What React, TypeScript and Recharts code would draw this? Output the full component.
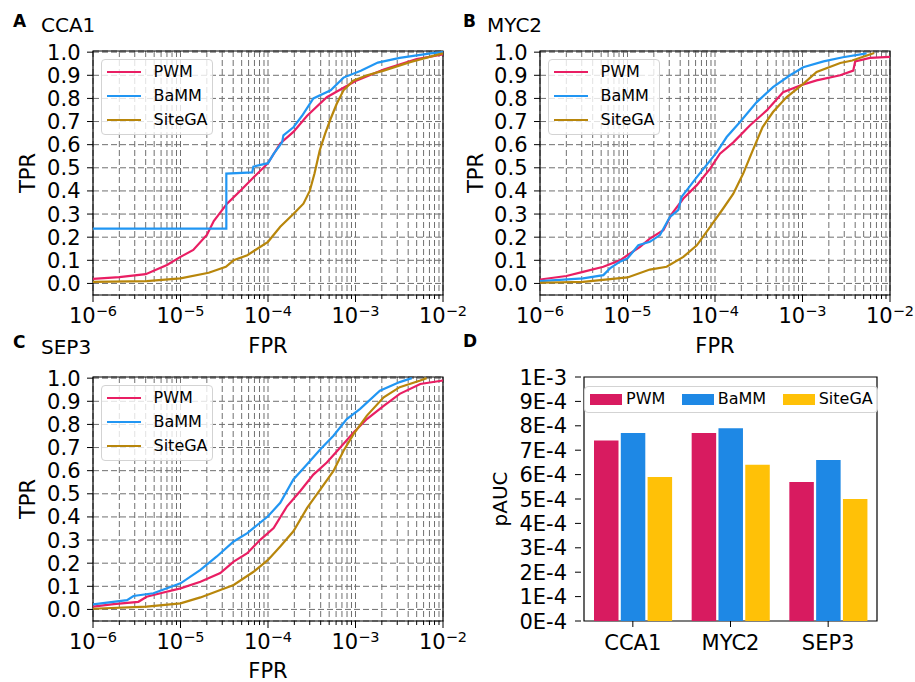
import React from 'react';
import {
    LineChart,
    Line,
    BarChart,
    Bar,
    XAxis,
    YAxis,
    CartesianGrid,
    Legend,
    ReferenceArea
} from 'recharts';

const FONT = '"DejaVu Sans", sans-serif';

// colours
const PWM_LINE = '#e91e63';
const BAMM_LINE = '#2196f3';
const SITEGA_LINE = '#b8860b';
const PWM_BAR = '#d81b60';
const BAMM_BAR = '#1e88e5';
const SITEGA_BAR = '#ffc107';

const seriesNames = ['PWM', 'BaMM', 'SiteGA'];

// axis ticks
const fprTicks = [
    1e-6, 2e-6, 3e-6, 4e-6, 5e-6, 6e-6, 7e-6, 8e-6, 9e-6,
    1e-5, 2e-5, 3e-5, 4e-5, 5e-5, 6e-5, 7e-5, 8e-5, 9e-5,
    1e-4, 2e-4, 3e-4, 4e-4, 5e-4, 6e-4, 7e-4, 8e-4, 9e-4,
    1e-3, 2e-3, 3e-3, 4e-3, 5e-3, 6e-3, 7e-3, 8e-3, 9e-3,
    1e-2
];
const tprTicks = [0, 0.1, 0.2, 0.3, 0.4, 0.5, 0.6, 0.7, 0.8, 0.9, 1.0];
const tprLabels = ['0.0', '0.1', '0.2', '0.3', '0.4', '0.5', '0.6', '0.7', '0.8', '0.9', '1.0'];

// ROC curves, [FPR, TPR]
const cca1Pwm = [
    [1e-6, 0.02], [2e-6, 0.027], [4e-6, 0.04], [7e-6, 0.08], [1e-5, 0.115],
    [1.4e-5, 0.145], [2e-5, 0.21], [2.4e-5, 0.27], [3.4e-5, 0.345], [4.8e-5, 0.4],
    [6.9e-5, 0.46], [1e-4, 0.52], [1.38e-4, 0.605], [1.95e-4, 0.655], [2.8e-4, 0.725],
    [4.7e-4, 0.805], [1e-3, 0.875], [2.1e-3, 0.925], [5e-3, 0.97], [1e-2, 0.99]
];
const cca1Bamm = [
    [1e-6, 0.237], [3.34e-5, 0.237], [3.34e-5, 0.475], [6.6e-5, 0.48], [6.8e-5, 0.505],
    [1e-4, 0.52], [1.16e-4, 0.56], [1.45e-4, 0.61], [1.5e-4, 0.64], [1.95e-4, 0.675],
    [2.45e-4, 0.725], [3.3e-4, 0.8], [5.2e-4, 0.835], [7.3e-4, 0.89], [1.15e-3, 0.92],
    [1.8e-3, 0.955], [3.2e-3, 0.975], [7.2e-3, 0.995], [1e-2, 1.0]
];
const cca1Sitega = [
    [1e-6, 0.007], [4.1e-6, 0.01], [1e-5, 0.022], [2.1e-5, 0.046], [3.3e-5, 0.072],
    [4.05e-5, 0.1], [5.8e-5, 0.122], [1e-4, 0.18], [1.38e-4, 0.245], [1.95e-4, 0.3],
    [2.54e-4, 0.345], [3e-4, 0.4], [3.4e-4, 0.475], [3.9e-4, 0.575], [4.5e-4, 0.648],
    [5.2e-4, 0.712], [6.1e-4, 0.777], [7.3e-4, 0.835], [9.4e-4, 0.877], [1.36e-3, 0.9],
    [2.1e-3, 0.92], [4.2e-3, 0.957], [7.9e-3, 0.985], [1e-2, 0.995]
];

const myc2Pwm = [
    [1e-6, 0.017], [2e-6, 0.032], [3.1e-6, 0.05], [5.3e-6, 0.072], [8.2e-6, 0.1],
    [1e-5, 0.122], [1.39e-5, 0.158], [1.8e-5, 0.194], [2.57e-5, 0.23], [3.2e-5, 0.3],
    [4.35e-5, 0.367], [6.2e-5, 0.425], [8.8e-5, 0.496], [1.14e-4, 0.561], [1.62e-4, 0.61],
    [2.5e-4, 0.683], [3.9e-4, 0.748], [6e-4, 0.827], [9.4e-4, 0.856], [1.45e-3, 0.878],
    [2.7e-3, 0.9], [3.8e-3, 0.92], [4e-3, 0.96], [5.9e-3, 0.975], [1e-2, 0.98]
];
const myc2Bamm = [
    [1e-6, 0.01], [3.1e-6, 0.022], [5.3e-6, 0.036], [6.3e-6, 0.065], [8.2e-6, 0.094],
    [1e-5, 0.108], [1.33e-5, 0.165], [1.8e-5, 0.18], [2.35e-5, 0.209], [3.06e-5, 0.288],
    [3.8e-5, 0.317], [4.15e-5, 0.374], [6.2e-5, 0.46], [1.05e-4, 0.568], [1.36e-4, 0.633],
    [1.93e-4, 0.698], [3e-4, 0.784], [4.6e-4, 0.849], [7.2e-4, 0.9], [1.02e-3, 0.935],
    [1.74e-3, 0.96], [2.9e-3, 0.978], [5.4e-3, 0.995]
];
const myc2Sitega = [
    [1e-6, 0.003], [3.1e-6, 0.007], [1e-5, 0.026], [1.8e-5, 0.06], [2.8e-5, 0.072],
    [4.35e-5, 0.115], [6.2e-5, 0.165], [8.8e-5, 0.245], [1.24e-4, 0.324], [1.62e-4, 0.388],
    [2.1e-4, 0.475], [2.7e-4, 0.575], [3.5e-4, 0.676], [4.6e-4, 0.741], [6.6e-4, 0.806],
    [1.02e-3, 0.863], [1.45e-3, 0.914], [2.7e-3, 0.953], [3.7e-3, 0.964], [6.6e-3, 0.996]
];

const sep3Pwm = [
    [1e-6, 0.012], [1.72e-6, 0.023], [3.3e-6, 0.033], [4.1e-6, 0.055], [5.9e-6, 0.07],
    [1e-5, 0.091], [1.69e-5, 0.12], [2.85e-5, 0.157], [4.05e-5, 0.207], [5.8e-5, 0.243],
    [8.1e-5, 0.3], [1.16e-4, 0.352], [1.65e-4, 0.446], [2.34e-4, 0.512], [3.3e-4, 0.583],
    [4.7e-4, 0.635], [6.7e-4, 0.7], [9.5e-4, 0.765], [1.35e-3, 0.823], [2.1e-3, 0.88],
    [3.2e-3, 0.932], [5.5e-3, 0.975], [1e-2, 0.99]
];
const sep3Bamm = [
    [1e-6, 0.022], [2.45e-6, 0.04], [2.9e-6, 0.058], [4.9e-6, 0.07], [1e-5, 0.113],
    [1.69e-5, 0.171], [2.6e-5, 0.229], [4.05e-5, 0.294], [5.8e-5, 0.33], [1e-4, 0.403],
    [1.38e-4, 0.461], [1.95e-4, 0.562], [2.8e-4, 0.628], [3.97e-4, 0.693], [5.6e-4, 0.751],
    [7.95e-4, 0.823], [1.13e-3, 0.867], [1.9e-3, 0.946], [3.2e-3, 0.983], [4.4e-3, 1.0]
];
const sep3Sitega = [
    [1e-6, 0.003], [4.1e-6, 0.012], [1e-5, 0.026], [1.69e-5, 0.052], [2.85e-5, 0.084],
    [4.05e-5, 0.106], [6.9e-5, 0.164], [1e-4, 0.214], [1.38e-4, 0.272], [1.95e-4, 0.338],
    [2.8e-4, 0.439], [3.97e-4, 0.519], [5.6e-4, 0.599], [7.3e-4, 0.686], [9.5e-4, 0.758],
    [1.35e-3, 0.838], [2.1e-3, 0.917], [3.2e-3, 0.961], [5.5e-3, 0.99], [6.5e-3, 1.0]
];

// partial AUC bars
const categories = ['CCA1', 'MYC2', 'SEP3'];
const pwmPauc = [7.4e-4, 7.7e-4, 5.7e-4];
const bammPauc = [7.7e-4, 7.9e-4, 6.6e-4];
const sitegaPauc = [5.9e-4, 6.4e-4, 5.0e-4];
const pAucTicks = [0, 1e-4, 2e-4, 3e-4, 4e-4, 5e-4, 6e-4, 7e-4, 8e-4, 9e-4, 1e-3];
const pAucLabels = ['0E-4', '1E-4', '2E-4', '3E-4', '4E-4', '5E-4', '6E-4', '7E-4', '8E-4', '9E-4', '1E-3'];

const toPoints = (pairs: number[][]) => pairs.map(([fpr, tpr]) => ({ fpr, tpr }));

const pAucRows = categories.map((name, i) => ({
    name,
    pwm: pwmPauc[i],
    bamm: bammPauc[i],
    sitega: sitegaPauc[i]
}));

// legend keeps the series order, not alphabetical
const ordered = (payload: any[] = []) =>
    [...payload].sort((a, b) => seriesNames.indexOf(a.value) - seriesNames.indexOf(b.value));

const tickText = (size: number) => ({ fontSize: size, fontFamily: FONT, fill: '#000' });

const LogTick = (props: any) => {
    const { x, y, payload } = props;
    const e = Math.log10(payload.value);
    const major = Math.abs(e - Math.round(e)) < 1e-6;
    return (
        <g>
            <line x1={x} x2={x} y1={y} y2={y + (major ? 7 : 4)} stroke="#000" strokeWidth={1} />
            {major && (
                <text x={x} y={y + 28} textAnchor="middle" fontSize={21} style={tickText(21)}>
                    10
                    <tspan dy={-7.5} fontSize={14.5} style={tickText(14.5)}>{'\u2212' + -Math.round(e)}</tspan>
                </text>
            )}
        </g>
    );
};

const TprTick = (props: any) => {
    const { x, y, payload } = props;
    const i = tprTicks.indexOf(payload.value);
    return (
        <g>
            <line x1={x - 6} x2={x} y1={y} y2={y} stroke="#000" strokeWidth={1} />
            <text x={x - 12.5} y={y + 7.5} textAnchor="end" fontSize={21} style={tickText(21)}>
                {tprLabels[i]}
            </text>
        </g>
    );
};

const PaucTick = (props: any) => {
    const { x, y, payload } = props;
    const i = pAucTicks.indexOf(payload.value);
    return (
        <g>
            <line x1={x - 6} x2={x} y1={y} y2={y} stroke="#000" strokeWidth={1} />
            <text x={x - 14} y={y + 7.5} textAnchor="end" fontSize={21} style={tickText(21)}>
                {pAucLabels[i]}
            </text>
        </g>
    );
};

const CatTick = (props: any) => {
    const { x, y, payload } = props;
    return (
        <g>
            <line x1={x} x2={x} y1={y} y2={y + 6} stroke="#000" strokeWidth={1} />
            <text x={x} y={y + 29} textAnchor="middle" fontSize={21} style={tickText(21)}>
                {payload.value}
            </text>
        </g>
    );
};

const LineLegend = (props: any) => (
    <div
        style={{
            width: 112,
            height: 76,
            boxSizing: 'border-box',
            background: 'rgba(255,255,255,0.8)',
            border: '1px solid #d3d3d3',
            borderRadius: 4,
            paddingLeft: 4.5
        }}
    >
        {ordered(props.payload).map((p: any) => (
            <div key={p.value} style={{ display: 'flex', alignItems: 'center', height: 24 }}>
                <span style={{ width: 34, height: 2.2, background: p.color, marginRight: 13 }} />
                <span style={{ fontSize: 16, fontFamily: FONT, color: '#000', lineHeight: '16px' }}>{p.value}</span>
            </div>
        ))}
    </div>
);

const BarLegend = (props: any) => (
    <div
        style={{
            width: 294,
            height: 27,
            boxSizing: 'border-box',
            background: 'rgba(255,255,255,0.8)',
            border: '1px solid #d3d3d3',
            borderRadius: 4,
            paddingLeft: 5,
            display: 'flex',
            alignItems: 'center'
        }}
    >
        {ordered(props.payload).map((p: any) => (
            <div key={p.value} style={{ display: 'flex', alignItems: 'center', marginRight: 16.5 }}>
                <span style={{ width: 32, height: 11, background: p.color, marginRight: 4 }} />
                <span style={{ fontSize: 16, fontFamily: FONT, color: '#000', lineHeight: '16px' }}>{p.value}</span>
            </div>
        ))}
    </div>
);

interface RocProps {
    left: number;
    top: number;
    pwm: number[][];
    bamm: number[][];
    sitega: number[][];
}

const RocPanel = ({ left, top, pwm, bamm, sitega }: RocProps) => (
    <div style={{ position: 'absolute', left, top }}>
        <LineChart width={480} height={360} margin={{ top: 51, right: 37, bottom: 0, left: 1 }}>
            <CartesianGrid stroke="#707070" strokeDasharray="6 3" strokeWidth={1} />
            <XAxis
                dataKey="fpr"
                type="number"
                scale="log"
                domain={[1e-6, 1e-2]}
                ticks={fprTicks}
                interval={0}
                allowDataOverflow
                height={65}
                tickSize={0}
                tickMargin={0}
                tickLine={false}
                axisLine={false}
                tick={<LogTick />}
            />
            <YAxis
                type="number"
                domain={[-0.05, 1.005]}
                ticks={tprTicks}
                interval={0}
                allowDataOverflow
                width={92}
                tickSize={0}
                tickMargin={0}
                tickLine={false}
                axisLine={false}
                tick={<TprTick />}
            />
            <Line data={toPoints(pwm)} dataKey="tpr" name="PWM" stroke={PWM_LINE} strokeWidth={2.2} dot={false} isAnimationActive={false} />
            <Line data={toPoints(bamm)} dataKey="tpr" name="BaMM" stroke={BAMM_LINE} strokeWidth={2.2} dot={false} isAnimationActive={false} />
            <Line data={toPoints(sitega)} dataKey="tpr" name="SiteGA" stroke={SITEGA_LINE} strokeWidth={2.2} dot={false} isAnimationActive={false} />
            <ReferenceArea y1={-0.05} y2={1.005} fill="none" fillOpacity={0} stroke="#000" strokeWidth={1.2} ifOverflow="visible" />
            <Legend
                layout="vertical"
                align="center"
                verticalAlign="middle"
                content={<LineLegend />}
                wrapperStyle={{ left: 101, top: 59, width: 'auto' }}
            />
        </LineChart>
    </div>
);

const PaucPanel = ({ left, top }: { left: number; top: number }) => (
    <div style={{ position: 'absolute', left, top }}>
        <BarChart
            width={440}
            height={360}
            data={pAucRows}
            margin={{ top: 51, right: 8, bottom: 0, left: 0 }}
            barSize={24.5}
            barGap={2.3}
        >
            <XAxis
                dataKey="name"
                height={65}
                padding={{ left: 3, right: 5 }}
                interval={0}
                tickSize={0}
                tickMargin={0}
                tickLine={false}
                axisLine={false}
                tick={<CatTick />}
            />
            <YAxis
                type="number"
                domain={[0, 1e-3]}
                ticks={pAucTicks}
                interval={0}
                allowDataOverflow
                width={131}
                tickSize={0}
                tickMargin={0}
                tickLine={false}
                axisLine={false}
                tick={<PaucTick />}
            />
            <Bar dataKey="pwm" name="PWM" fill={PWM_BAR} isAnimationActive={false} />
            <Bar dataKey="bamm" name="BaMM" fill={BAMM_BAR} isAnimationActive={false} />
            <Bar dataKey="sitega" name="SiteGA" fill={SITEGA_BAR} isAnimationActive={false} />
            <ReferenceArea y1={0} y2={1e-3} fill="none" fillOpacity={0} stroke="#000" strokeWidth={1.2} ifOverflow="visible" />
            <Legend
                layout="vertical"
                align="center"
                verticalAlign="middle"
                content={<BarLegend />}
                wrapperStyle={{ left: 134, top: 60, width: 'auto' }}
            />
        </BarChart>
    </div>
);

const txt = { fontFamily: FONT, fill: '#000' };

const App = () => (
    <div
        style={{
            position: 'absolute',
            left: 0,
            top: 0,
            width: 915,
            height: 682,
            overflow: 'hidden',
            background: '#fff',
            fontFamily: FONT
        }}
    >
        <RocPanel left={0} top={0} pwm={cca1Pwm} bamm={cca1Bamm} sitega={cca1Sitega} />
        <RocPanel left={447} top={0} pwm={myc2Pwm} bamm={myc2Bamm} sitega={myc2Sitega} />
        <RocPanel left={0} top={325.7} pwm={sep3Pwm} bamm={sep3Bamm} sitega={sep3Sitega} />
        <PaucPanel left={450} top={325.7} />
        <svg width={915} height={682} style={{ position: 'absolute', left: 0, top: 0, pointerEvents: 'none' }}>
            <text x={13} y={27} fontSize={17} fontWeight="bold" {...txt}>A</text>
            <text x={41} y={32} fontSize={20} {...txt}>CCA1</text>
            <text x={463} y={27} fontSize={17} fontWeight="bold" {...txt}>B</text>
            <text x={487} y={32} fontSize={20} {...txt}>MYC2</text>
            <text x={13} y={348} fontSize={17} fontWeight="bold" {...txt}>C</text>
            <text x={41} y={354} fontSize={20} {...txt}>SEP3</text>
            <text x={463} y={347} fontSize={17} fontWeight="bold" {...txt}>D</text>

            <text transform="translate(35,173) rotate(-90)" textAnchor="middle" fontSize={21} {...txt}>TPR</text>
            <text transform="translate(483,173) rotate(-90)" textAnchor="middle" fontSize={21} {...txt}>TPR</text>
            <text transform="translate(35,499) rotate(-90)" textAnchor="middle" fontSize={21} {...txt}>TPR</text>
            <text transform="translate(507,499) rotate(-90)" textAnchor="middle" fontSize={20} {...txt}>pAUC</text>

            <text x={268} y={353} textAnchor="middle" fontSize={21} {...txt}>FPR</text>
            <text x={715} y={353} textAnchor="middle" fontSize={21} {...txt}>FPR</text>
            <text x={268} y={678} textAnchor="middle" fontSize={21} {...txt}>FPR</text>
        </svg>
    </div>
);

export default App;
